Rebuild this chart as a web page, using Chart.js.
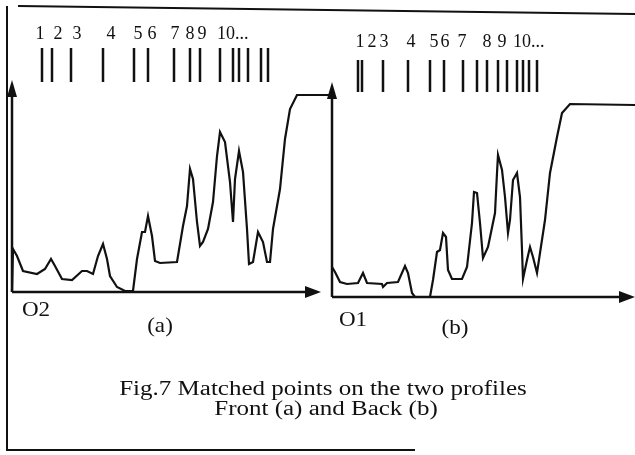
<!DOCTYPE html>
<html>
<head>
<meta charset="utf-8">
<script src="https://cdn.jsdelivr.net/npm/chart.js@4/dist/chart.umd.min.js"></script>
<style>
  body { margin: 0; background: #fff; }
  #wrap { position: relative; width: 635px; height: 455px; background: #fff; }
  #wrap canvas { position: absolute; left: 0; top: 0; }
</style>
</head>
<body>
<div id="wrap">
  <canvas id="front" width="635" height="455"></canvas>
  <canvas id="back" width="635" height="455"></canvas>
</div>
<script>
// profile (a), front: position along O2 axis, height above axis
const frontX = [0, 1, 5, 11, 25, 33, 39, 43, 50, 60, 70, 75, 81, 86, 91, 95, 98, 105, 113, 121,
  125, 130, 133, 136, 140, 143, 148, 165, 171, 175, 178, 181, 185, 188, 191, 196, 201, 205, 208,
  213, 218, 221, 223, 227, 231, 235, 237, 241, 246, 251, 255, 258, 261, 268, 273, 278, 285, 318];
const frontY = [0, 43, 36, 21, 18, 23, 33, 26, 13, 12, 21, 21, 18, 36, 48, 33, 16, 5, 1, 1,
  33, 60, 60, 76, 56, 31, 29, 30, 66, 86, 123, 113, 70, 46, 50, 63, 90, 136, 160,
  150, 110, 70, 113, 141, 120, 63, 28, 30, 60, 50, 30, 30, 63, 103, 153, 183, 197, 197];

// profile (b), back: position along O1 axis, height above axis
const backX = [0, 3, 8, 15, 26, 31, 35, 50, 51, 55, 66, 73, 76, 80, 83, 98, 101, 105, 108, 111,
  114, 116, 120, 130, 135, 140, 142, 145, 148, 151, 156, 163, 165, 166, 170, 173, 176, 178, 181,
  185, 188, 190, 191, 195, 198, 201, 205, 208, 213, 218, 225, 230, 238, 303];
const backY = [30, 25, 15, 13, 14, 24, 14, 13, 10, 14, 15, 31, 24, 4, 0, 0, 17, 45, 47, 64,
  60, 27, 18, 18, 30, 74, 105, 104, 74, 39, 50, 84, 124, 142, 127, 100, 64, 77, 117,
  124, 100, 47, 18, 37, 50, 40, 24, 44, 77, 124, 160, 184, 193, 192];

// matched points markers and their numbers
const frontMarks = [30, 40, 59, 91, 122, 136, 162, 178, 188, 208, 221, 227, 236, 249, 256];
const backMarks = [26, 30, 51, 76, 98, 112, 131, 145, 155, 166, 175, 185, 191, 197, 205];
const markLabels = ['1', '2', '3', '4', '5', '6', '7', '8', '9', '10...'];
const frontLabelX = [28, 46, 65, 99, 126, 140, 163, 178, 190, 205];
const backLabelX = [28, 40, 52, 79, 102, 113, 130, 155, 170, 181];

const captionLines = ['Fig.7 Matched points on the two profiles', 'Front (a) and Back (b)'];

const serif = '"Liberation Serif", "DejaVu Serif", serif';

function arrowUp(ctx, x, y) {
  ctx.beginPath();
  ctx.moveTo(x, y);
  ctx.lineTo(x - 5, y + 17);
  ctx.lineTo(x + 5, y + 17);
  ctx.closePath();
  ctx.fill();
}

function arrowRight(ctx, x, y) {
  ctx.beginPath();
  ctx.moveTo(x, y);
  ctx.lineTo(x - 16, y - 6);
  ctx.lineTo(x - 16, y + 6);
  ctx.closePath();
  ctx.fill();
}

// the scan is a bit wider than tall, so text is stretched sideways
function wideText(ctx, text, cx, y, stretch) {
  ctx.save();
  ctx.translate(cx, y);
  ctx.scale(stretch, 1);
  ctx.fillText(text, 0, 0);
  ctx.restore();
}

// axes with arrows, marker strokes and numbers for one panel
function panelPlugin(opts) {
  return {
    id: 'panel',
    afterDatasetsDraw(chart) {
      const {ctx, scales: {x, y}} = chart;
      const x0 = x.getPixelForValue(0);
      const y0 = y.getPixelForValue(0);
      ctx.save();
      ctx.strokeStyle = '#111';
      ctx.fillStyle = '#111';
      ctx.lineWidth = 2.5;
      ctx.beginPath();
      ctx.moveTo(x0, y0);
      ctx.lineTo(x0, y.getPixelForValue(y.max) + 6);
      ctx.moveTo(x0, y0);
      ctx.lineTo(x.getPixelForValue(opts.axisEnd) - 6, y0);
      ctx.stroke();
      arrowUp(ctx, x0, y.getPixelForValue(y.max));
      arrowRight(ctx, x.getPixelForValue(opts.axisEnd), y0);

      ctx.lineWidth = 2.5;
      ctx.beginPath();
      opts.marks.forEach(m => {
        const px = Math.round(x.getPixelForValue(m));
        ctx.moveTo(px, opts.markTop);
        ctx.lineTo(px, opts.markBottom);
      });
      ctx.stroke();

      ctx.font = '18px ' + serif;
      ctx.textBaseline = 'middle';
      opts.labelX.forEach((lx, i) => {
        const last = i === opts.labelX.length - 1;
        ctx.textAlign = last ? 'left' : 'center';
        ctx.fillText(markLabels[i], x.getPixelForValue(lx), opts.labelY);
      });

      ctx.textAlign = 'center';
      ctx.font = '21px ' + serif;
      wideText(ctx, opts.origin, opts.originPos[0], opts.originPos[1], 1.1);
      wideText(ctx, opts.name, opts.namePos[0], opts.namePos[1], 1.1);
      ctx.restore();
    }
  };
}

// scanned frame round the figure and the caption
const framePlugin = {
  id: 'frame',
  beforeDraw(chart) {
    const ctx = chart.ctx;
    ctx.save();
    ctx.fillStyle = '#fff';
    ctx.fillRect(0, 0, chart.width, chart.height);
    ctx.strokeStyle = '#111';
    ctx.lineWidth = 2;
    ctx.beginPath();
    ctx.moveTo(7, 6);
    ctx.lineTo(7, 450);
    ctx.lineTo(415, 450);
    ctx.moveTo(18, 6);
    ctx.lineTo(635, 14);
    ctx.stroke();
    ctx.fillStyle = '#111';
    ctx.font = '20px ' + serif;
    ctx.textAlign = 'center';
    ctx.textBaseline = 'alphabetic';
    wideText(ctx, captionLines[0], 323, 395, 1.25);
    wideText(ctx, captionLines[1], 326, 415, 1.25);
    ctx.restore();
  }
};

function profileChart(id, xs, ys, cfg, plugins) {
  return new Chart(document.getElementById(id), {
    type: 'line',
    data: {
      datasets: [{
        data: xs.map((v, i) => ({x: v, y: ys[i]})),
        borderColor: '#111',
        borderWidth: 2.2,
        pointRadius: 0,
        tension: 0,
        fill: false,
        clip: false,
      }]
    },
    options: {
      responsive: false,
      animation: false,
      devicePixelRatio: 1,
      layout: {padding: cfg.padding},
      plugins: {legend: {display: false}, tooltip: {enabled: false}},
      scales: {
        x: {type: 'linear', display: false, min: 0, max: cfg.xMax},
        y: {type: 'linear', display: false, min: 0, max: cfg.yMax},
      }
    },
    plugins
  });
}

profileChart('front', frontX, frontY,
  {padding: {left: 12, top: 80, right: 305, bottom: 163}, xMax: 318, yMax: 212},
  [framePlugin, panelPlugin({
    axisEnd: 309, marks: frontMarks, markTop: 48, markBottom: 82,
    labelX: frontLabelX, labelY: 34,
    origin: 'O2', originPos: [36, 310], name: '(a)', namePos: [160, 326]
  })]);

profileChart('back', backX, backY,
  {padding: {left: 332, top: 82, right: 0, bottom: 158}, xMax: 303, yMax: 215},
  [panelPlugin({
    axisEnd: 303, marks: backMarks, markTop: 60, markBottom: 92,
    labelX: backLabelX, labelY: 42,
    origin: 'O1', originPos: [353, 320], name: '(b)', namePos: [455, 328]
  })]);
</script>
</body>
</html>
